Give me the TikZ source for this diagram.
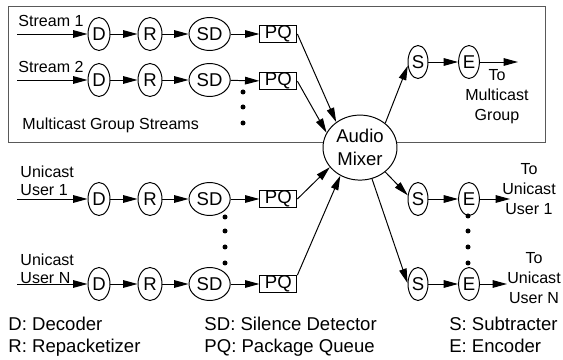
\documentclass[tikz,border=0pt]{standalone}
\usepackage{fontspec}
\setmainfont{Liberation Sans}
\usepackage{tikz}
\usetikzlibrary{arrows.meta,shapes.geometric}
\newcommand{\labelsize}{\fontsize{11.4}{14.2}\selectfont}
\newcommand{\usersize}{\fontsize{11.4}{12.8}\selectfont}
\newcommand{\blocksize}{\fontsize{13.2}{16.3}\selectfont}

\begin{document}
\begin{tikzpicture}[line width=0.7pt,
    blk/.style={draw, ellipse, inner sep=0pt, minimum height=0.825cm, font=\blocksize},
    dec/.style={blk, minimum width=0.55cm},
    rep/.style={blk, minimum width=0.6cm},
    sil/.style={blk, minimum width=1.03cm},
    sub/.style={blk, minimum width=0.5cm},
    enc/.style={blk, minimum width=0.52cm},
    pqbox/.style={draw, rectangle, inner sep=0pt, minimum width=0.925cm, minimum height=0.42cm, font=\blocksize},
    flow/.style={-{Triangle[length=3.6mm, width=1.9mm]}},
    lbl/.style={inner sep=0pt, font=\labelsize},
    leg/.style={inner sep=0pt, anchor=base west, font=\blocksize}]
    \useasboundingbox (0,0) rectangle (14.075,9);

    % Multicast group box
    \draw[black!65] (0.2,5.45) rectangle (13.625,8.84);
    \node[lbl, anchor=west] (mgs) at (0.55,5.875) {Multicast Group Streams};

    % Audio mixer
    \node[draw, ellipse, fill=white, inner sep=0pt, minimum width=1.85cm,
          minimum height=1.625cm, align=center, font=\blocksize] (mix) at (9.0,5.31) {Audio\\Mixer};

    % Stream 1
    \node[lbl, anchor=west] (st1) at (0.45,8.475) {Stream 1};
    \coordinate (in1) at (0.425,8.15);
    \node[dec] (d1) at (2.475,8.15) {D};
    \node[rep] (r1) at (3.75,8.15) {R};
    \node[sil] (sd1) at (5.24,8.15) {SD};
    \node[pqbox] (pq1) at (6.96,8.15) {PQ};
    \draw[flow] (in1) -- (d1);
    \draw[flow] (d1) -- (r1);
    \draw[flow] (r1) -- (sd1);
    \draw[flow] (sd1) -- (pq1);
    \draw[flow] (pq1.east) -- (mix.133);

    % Stream 2
    \node[lbl, anchor=west] (st2) at (0.45,7.325) {Stream 2};
    \coordinate (in2) at (0.425,7.0);
    \node[dec] (d2) at (2.475,7.0) {D};
    \node[rep] (r2) at (3.75,7.0) {R};
    \node[sil] (sd2) at (5.24,7.0) {SD};
    \node[pqbox] (pq2) at (6.96,6.97) {PQ};
    \draw[flow] (in2) -- (d2);
    \draw[flow] (d2) -- (r2);
    \draw[flow] (r2) -- (sd2);
    \draw[flow] (sd2) -- (pq2);
    \draw[flow] (pq2.east) -- (mix.156);

    % more streams
    \fill (6.075,6.7) circle (0.0625);
    \fill (6.075,6.325) circle (0.0625);
    \fill (6.075,5.925) circle (0.0625);

    % Unicast user 1
    \node[lbl, anchor=west, align=left, font=\usersize] (uu1) at (0.5,4.475) {Unicast\\User 1};
    \coordinate (in3) at (0.425,4.025);
    \node[dec] (d3) at (2.475,4.025) {D};
    \node[rep] (r3) at (3.75,4.025) {R};
    \node[sil] (sd3) at (5.24,4.025) {SD};
    \node[pqbox] (pq3) at (6.96,4.025) {PQ};
    \draw[flow] (in3) -- (d3);
    \draw[flow] (d3) -- (r3);
    \draw[flow] (r3) -- (sd3);
    \draw[flow] (sd3) -- (pq3);
    \draw[flow] (pq3.east) -- (mix.213);

    % Unicast user N
    \node[lbl, anchor=west, align=left, font=\usersize] (uun) at (0.5,2.29) {Unicast\\User N};
    \coordinate (in4) at (0.425,1.9);
    \node[dec] (d4) at (2.475,1.9) {D};
    \node[rep] (r4) at (3.75,1.9) {R};
    \node[sil] (sd4) at (5.24,1.9) {SD};
    \node[pqbox] (pq4) at (6.96,1.9) {PQ};
    \draw[flow] (in4) -- (d4);
    \draw[flow] (d4) -- (r4);
    \draw[flow] (r4) -- (sd4);
    \draw[flow] (sd4) -- (pq4);
    \draw[flow] (pq4.north east) -- (mix.235);

    % users in between
    \fill (5.625,3.575) circle (0.0625);
    \fill (5.625,3.225) circle (0.0625);
    \fill (5.625,2.825) circle (0.0625);
    \fill (5.625,2.425) circle (0.0625);

    % To multicast group
    \node[sub] (s1) at (10.45,7.45) {S};
    \node[enc] (e1) at (11.725,7.45) {E};
    \coordinate (out1) at (12.95,7.45);
    \node[lbl, align=center] (tmg) at (12.425,6.575) {To\\Multicast\\Group};
    \draw[flow] (mix.44) -- (s1.200);
    \draw[flow] (s1) -- (e1);
    \draw[flow] (e1) -- (out1);

    % To unicast user 1
    \node[sub] (s3) at (10.45,4.025) {S};
    \node[enc] (e3) at (11.725,4.025) {E};
    \coordinate (out3) at (12.75,4.025);
    \node[lbl, align=center] (tu1) at (13.225,4.275) {To\\Unicast\\User 1};
    \draw[flow] (mix.316) -- (s3.160);
    \draw[flow] (s3) -- (e3);
    \draw[flow] (e3) -- (out3);

    % To unicast user N
    \node[sub] (s4) at (10.45,1.9) {S};
    \node[enc] (e4) at (11.725,1.9) {E};
    \coordinate (out4) at (12.675,1.9);
    \node[lbl, align=center] (tun) at (13.35,2.05) {To\\Unicast\\User N};
    \draw[flow] (mix.291) -- (s4.175);
    \draw[flow] (s4) -- (e4);
    \draw[flow] (e4) -- (out4);

    \fill (11.7,3.6) circle (0.0625);
    \fill (11.7,3.225) circle (0.0625);
    \fill (11.7,2.825) circle (0.0625);
    \fill (11.7,2.425) circle (0.0625);

    % Legend
    \node[leg] (lgd) at (0.2,0.735) {D: Decoder};
    \node[leg] (lgr) at (0.2,0.175) {R: Repacketizer};
    \node[leg] (lgsd) at (5.1,0.735) {SD: Silence Detector};
    \node[leg] (lgpq) at (5.1,0.175) {PQ: Package Queue};
    \node[leg] (lgs) at (11.22,0.735) {S: Subtracter};
    \node[leg] (lge) at (11.22,0.175) {E: Encoder};
\end{tikzpicture}
\end{document}
